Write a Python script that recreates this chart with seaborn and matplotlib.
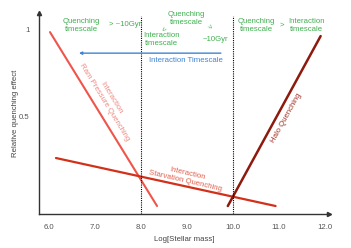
import matplotlib
matplotlib.use("Agg")
import matplotlib.pyplot as plt
import seaborn as sns
import pandas as pd

# ---- data ----
ram_x = [6.02, 8.35]
ram_y = [0.983, -0.017]
starv_x = [6.15, 10.93]
starv_y = [0.259, -0.017]
halo_x = [9.89, 11.91]
halo_y = [-0.017, 0.96]
arrow_x = [9.8, 6.59]
arrow_y = [0.862, 0.862]
divider_x = [8.0, 10.0]
xticks = [6.0, 7.0, 8.0, 9.0, 10.0, 11.0, 12.0]
xtick_labels = ["6.0", "7.0", "8.0", "9.0", "10.0", "11.0", "12.0"]
yticks = [0.5, 1.0]
ytick_labels = ["0.5", "1"]

sns.set_style("white")
plt.rcParams['font.family'] = ['Liberation Sans', 'DejaVu Sans']

fig = plt.figure(figsize=(3.51, 2.48), dpi=100)
ax = fig.add_axes([0.111, 0.137, 0.826, 0.81])

ram = pd.DataFrame({"x": ram_x, "y": ram_y})
starv = pd.DataFrame({"x": starv_x, "y": starv_y})
halo = pd.DataFrame({"x": halo_x, "y": halo_y})
sns.lineplot(data=ram, x="x", y="y", ax=ax, color="#f0554c", lw=1.5)
sns.lineplot(data=starv, x="x", y="y", ax=ax, color="#d2301a", lw=1.6)
sns.lineplot(data=halo, x="x", y="y", ax=ax, color="#8e1a0e", lw=1.8)

ax.set_xlim(5.78, 12.09)
ax.set_ylim(-0.063, 1.092)

for dx in divider_x:
    ax.vlines(dx, -0.063, 1.075, colors="black", linestyles=(0, (1, 1)), lw=0.8)

ax.annotate("", xy=(arrow_x[1], arrow_y[1]), xytext=(arrow_x[0], arrow_y[0]),
            arrowprops=dict(arrowstyle="-|>", color="#3f83d4", lw=1.0, mutation_scale=4))
ax.text(8.98, 0.82, "Interaction Timescale", color="#3f83d4", fontsize=5.6,
        ha="center", va="center")

green = "#3fb04f"
fs = 5.6
ax.text(6.7, 1.02, "Quenching\ntimescale", color=green, fontsize=fs, ha="center", va="center",
        linespacing=1.1)
ax.text(7.65, 1.024, "> ~10Gyr", color=green, fontsize=fs, ha="center", va="center")
ax.text(8.98, 1.06, "Quenching\ntimescale", color=green, fontsize=fs, ha="center", va="center",
        linespacing=1.1)
ax.text(8.45, 0.94, "Interaction\ntimescale", color=green, fontsize=fs, ha="center", va="center",
        linespacing=1.1)
ax.text(9.63, 0.94, "~10Gyr", color=green, fontsize=fs, ha="center", va="center")
ax.text(8.48, 1.01, ">", color=green, fontsize=fs, ha="center", va="center", rotation=225)
ax.text(9.48, 1.01, ">", color=green, fontsize=fs, ha="center", va="center", rotation=-45)
ax.text(10.52, 1.02, "Quenching\ntimescale", color=green, fontsize=fs, ha="center", va="center",
        linespacing=1.1)
ax.text(11.07, 1.024, ">", color=green, fontsize=fs, ha="center", va="center")
ax.text(11.6, 1.02, "Interaction\ntimescale", color=green, fontsize=fs, ha="center", va="center",
        linespacing=1.1)

ax.text(7.28, 0.59, "Interaction\nRam Pressure Quenching", color="#f08a84", fontsize=fs,
        ha="center", va="center", rotation=-58.5, rotation_mode="anchor", linespacing=1.3)
ax.text(8.98, 0.149, "Interaction\nStarvation Quenching", color="#e0604c", fontsize=fs,
        ha="center", va="center", rotation=-13, rotation_mode="anchor", linespacing=1.2)
ax.text(11.17, 0.49, "Halo Quenching", color="#a83428", fontsize=fs,
        ha="center", va="center", rotation=61, rotation_mode="anchor")

ax.set_xticks(xticks)
ax.set_xticklabels(xtick_labels)
ax.set_yticks(yticks)
ax.set_yticklabels(ytick_labels)
ax.tick_params(axis="x", direction="inout", length=8, width=1, color="#333333",
               labelsize=fs, labelcolor="#555555", pad=3)
ax.tick_params(axis="y", direction="inout", length=12, width=1, color="#333333",
               labelsize=fs, labelcolor="#555555", pad=1)
ax.set_xlabel("Log[Stellar mass]", fontsize=fs, color="#444444", labelpad=4)
ax.set_ylabel("Relative quenching effect", fontsize=fs, color="#444444", labelpad=0)

for s in ["top", "right"]:
    ax.spines[s].set_visible(False)
for s in ["left", "bottom"]:
    ax.spines[s].set_color("#333333")
    ax.spines[s].set_linewidth(1.0)
ax.plot(1, 0, marker=">", color="#333333", ms=3, transform=ax.transAxes, clip_on=False)
ax.plot(0, 1, marker="^", color="#333333", ms=3, transform=ax.transAxes, clip_on=False)

fig.savefig("out.png", dpi=100)
